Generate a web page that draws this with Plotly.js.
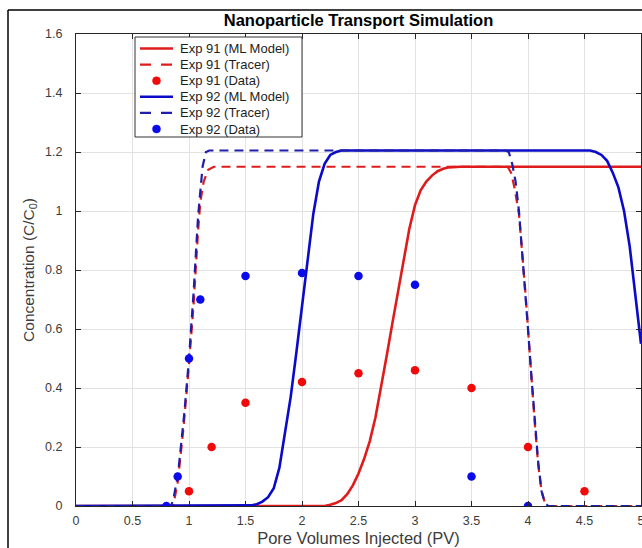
<!DOCTYPE html>
<html><head><meta charset="utf-8">
<script src="https://cdn.plot.ly/plotly-3.0.1.min.js"></script>
<style>html,body{margin:0;padding:0;background:#fff;overflow:hidden;} #chart{width:642px;height:548px;}</style>
</head><body><div id="chart"></div>
<script>
// ---- Data ----
const exp91ModelX = [0, 2.2, 2.25, 2.3, 2.35, 2.4, 2.45, 2.5, 2.55, 2.6, 2.65, 2.7, 2.75, 2.8, 2.85, 2.9, 2.95, 3.0, 3.05, 3.1, 3.15, 3.2, 3.25, 3.3, 3.4, 5.0];
const exp91ModelY = [0, 0, 0.004, 0.01, 0.02, 0.04, 0.07, 0.11, 0.16, 0.22, 0.30, 0.40, 0.51, 0.62, 0.73, 0.84, 0.94, 1.02, 1.07, 1.10, 1.12, 1.135, 1.143, 1.148, 1.15, 1.15];

const exp91TracerX = [0, 0.86, 0.9, 0.95, 1.0, 1.04, 1.08, 1.1, 1.13, 1.17, 1.22, 3.82, 3.85, 3.88, 3.92, 3.95, 3.98, 4.0, 4.03, 4.06, 4.09, 4.12, 4.15, 4.18, 5.0];
const exp91TracerY = [0, 0, 0.08, 0.26, 0.48, 0.68, 0.93, 1.03, 1.10, 1.14, 1.15, 1.15, 1.13, 1.08, 0.99, 0.86, 0.71, 0.60, 0.43, 0.28, 0.14, 0.05, 0.01, 0, 0];

const exp91DataX = [1.0, 1.2, 1.5, 2.0, 2.5, 3.0, 3.5, 4.0, 4.5];
const exp91DataY = [0.05, 0.20, 0.35, 0.42, 0.45, 0.46, 0.40, 0.20, 0.05];

const exp92ModelX = [0, 1.5, 1.55, 1.6, 1.65, 1.7, 1.75, 1.8, 1.85, 1.9, 1.95, 2.0, 2.05, 2.1, 2.15, 2.2, 2.25, 2.3, 2.35, 4.55, 4.6, 4.65, 4.7, 4.75, 4.8, 4.85, 4.9, 4.95, 5.0];
const exp92ModelY = [0, 0, 0.002, 0.006, 0.015, 0.03, 0.06, 0.13, 0.25, 0.37, 0.52, 0.67, 0.83, 0.99, 1.10, 1.16, 1.19, 1.20, 1.205, 1.205, 1.20, 1.19, 1.17, 1.13, 1.08, 1.00, 0.88, 0.72, 0.55];

const exp92TracerX = [0, 0.84, 0.86, 0.88, 0.9, 0.92, 0.96, 1.0, 1.04, 1.08, 1.12, 1.15, 1.18, 3.80, 3.83, 3.86, 3.89, 3.92, 3.95, 3.98, 4.0, 4.03, 4.06, 4.09, 4.12, 4.15, 4.18, 5.0];
const exp92TracerY = [0, 0, 0.02, 0.06, 0.10, 0.17, 0.32, 0.50, 0.72, 0.98, 1.15, 1.20, 1.205, 1.205, 1.20, 1.16, 1.10, 1.00, 0.86, 0.71, 0.60, 0.44, 0.29, 0.15, 0.05, 0.01, 0, 0];

const exp92DataX = [0.8, 0.9, 1.0, 1.1, 1.5, 2.0, 2.5, 3.0, 3.5, 4.0];
const exp92DataY = [0.0, 0.10, 0.50, 0.70, 0.78, 0.79, 0.78, 0.75, 0.10, 0.0];

const xTicks = [0, 0.5, 1, 1.5, 2, 2.5, 3, 3.5, 4, 4.5, 5];
const yTicks = [0, 0.2, 0.4, 0.6, 0.8, 1, 1.2, 1.4, 1.6];

// ---- Styles ----
const RED_LINE = 'rgb(222,28,28)';
const RED_DOT = 'rgb(240,10,10)';
const BLUE_LINE = 'rgb(10,10,200)';
const BLUE_TRACER = 'rgb(30,30,170)';
const BLUE_DOT = 'rgb(10,10,235)';
const FONT = '"Liberation Sans", Arial, Helvetica, sans-serif';

const traces = [
  {x: exp91ModelX, y: exp91ModelY, mode: 'lines', name: 'Exp 91 (ML Model)',
   line: {color: RED_LINE, width: 2.6}},
  {x: exp91TracerX, y: exp91TracerY, mode: 'lines', name: 'Exp 91 (Tracer)',
   line: {color: RED_LINE, width: 2.2, dash: '9px,6px'}},
  {x: exp91DataX, y: exp91DataY, mode: 'markers', name: 'Exp 91 (Data)',
   marker: {color: RED_DOT, size: 8.5}},
  {x: exp92ModelX, y: exp92ModelY, mode: 'lines', name: 'Exp 92 (ML Model)',
   line: {color: BLUE_LINE, width: 2.6}},
  {x: exp92TracerX, y: exp92TracerY, mode: 'lines', name: 'Exp 92 (Tracer)',
   line: {color: BLUE_TRACER, width: 2.2, dash: '9px,6px'}},
  {x: exp92DataX, y: exp92DataY, mode: 'markers', name: 'Exp 92 (Data)',
   marker: {color: BLUE_DOT, size: 8.5}}
];

// ---- Geometry (pixels) ----
const W = 642, H = 548;
const M = {l: 76, r: 1, t: 34, b: 42};
const PW = W - M.l - M.r, PH = H - M.t - M.b;
const px2x = p => (p - M.l) / PW;
const py2y = p => (H - M.b - p) / PH;

// Compact legend box like the original (MATLAB-style), built from the trace list
const LEG = {left: 135, top: 37, right: 302, bottom: 137, firstRow: 48.5, row: 16.1,
             sample0: 140, sample1: 173, textX: 178, dotR: 4};
const shapes = [
  {type: 'line', xref: 'paper', yref: 'paper', x0: px2x(8), x1: px2x(W), y0: py2y(10), y1: py2y(10),
   line: {color: '#000', width: 1.5}},
  {type: 'line', xref: 'paper', yref: 'paper', x0: px2x(8), x1: px2x(8), y0: py2y(10), y1: py2y(H),
   line: {color: '#000', width: 1.5}},
  {type: 'rect', xref: 'paper', yref: 'paper', layer: 'above',
   x0: px2x(LEG.left), x1: px2x(LEG.right), y0: py2y(LEG.bottom), y1: py2y(LEG.top),
   fillcolor: '#fff', line: {color: 'rgb(50,50,50)', width: 1}}
];
const annotations = [];
traces.forEach((t, i) => {
  const cy = LEG.firstRow + i * LEG.row;
  if (t.mode === 'lines') {
    shapes.push({type: 'line', xref: 'paper', yref: 'paper', layer: 'above',
      x0: px2x(LEG.sample0), x1: px2x(LEG.sample1), y0: py2y(cy), y1: py2y(cy),
      line: {color: t.line.color, width: t.line.width, dash: t.line.dash ? '11px,10px' : 'solid'}});
  } else {
    const cx = (LEG.sample0 + LEG.sample1) / 2;
    shapes.push({type: 'circle', xref: 'paper', yref: 'paper', layer: 'above',
      x0: px2x(cx - LEG.dotR), x1: px2x(cx + LEG.dotR), y0: py2y(cy + LEG.dotR), y1: py2y(cy - LEG.dotR),
      fillcolor: t.marker.color, line: {color: t.marker.color, width: 0.5}});
  }
  annotations.push({xref: 'paper', yref: 'paper', x: px2x(LEG.textX), y: py2y(cy),
    xanchor: 'left', yanchor: 'middle', showarrow: false, text: t.name,
    font: {family: FONT, size: 13, color: 'rgb(30,30,30)'}});
});

const axisCommon = {
  showgrid: true, gridcolor: 'rgb(226,226,226)', gridwidth: 1,
  zeroline: false, showline: true, linecolor: 'rgb(38,38,38)', linewidth: 1,
  mirror: 'ticks', ticks: 'inside', ticklen: 5, tickwidth: 1, tickcolor: 'rgb(38,38,38)',
  ticklabeloverflow: 'allow',
  tickfont: {family: FONT, size: 12.5, color: 'rgb(60,60,60)'}
};

const layout = {
  width: W, height: H, margin: M,
  paper_bgcolor: '#fff', plot_bgcolor: '#fff',
  font: {family: FONT, color: 'rgb(38,38,38)'},
  title: {text: '<b>Nanoparticle Transport Simulation</b>', x: 0.5, xref: 'paper', xanchor: 'center',
          y: 1 - 20 / H, yref: 'container', yanchor: 'middle',
          font: {family: FONT, size: 16.5, color: '#000'}},
  xaxis: Object.assign({}, axisCommon, {
    range: [0, 5], tickmode: 'array', tickvals: xTicks, ticktext: xTicks.map(String),
    ticklabelstandoff: 3,
    title: {text: 'Pore Volumes Injected (PV)', standoff: 5,
            font: {family: FONT, size: 16.5, color: 'rgb(60,60,60)'}}
  }),
  yaxis: Object.assign({}, axisCommon, {
    range: [0, 1.6], tickmode: 'array', tickvals: yTicks, ticktext: yTicks.map(String),
    ticklabelstandoff: 10,
    title: {text: 'Concentration (C/C<sub>0</sub>)', standoff: 6,
            font: {family: FONT, size: 15.5, color: 'rgb(60,60,60)'}}
  }),
  showlegend: false,
  shapes: shapes,
  annotations: annotations
};

Plotly.newPlot('chart', traces, layout, {staticPlot: true, displayModeBar: false});
</script></body></html>
